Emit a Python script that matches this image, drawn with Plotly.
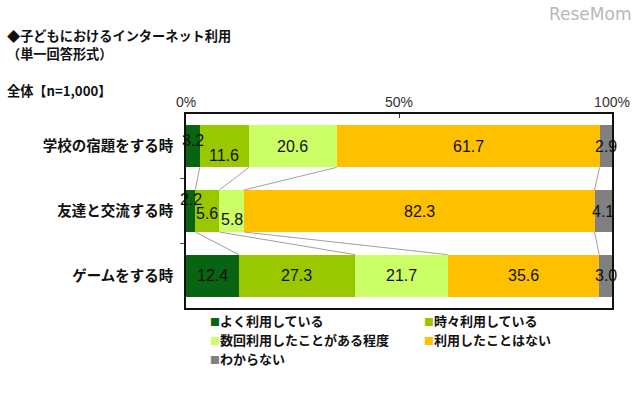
import plotly.graph_objects as go

categories = ["学校の宿題をする時", "友達と交流する時", "ゲームをする時"]
series_names = ["よく利用している", "時々利用している", "数回利用したことがある程度", "利用したことはない", "わからない"]
often = [3.2, 2.2, 12.4]
sometimes = [11.6, 5.6, 27.3]
few_times = [20.6, 5.8, 21.7]
never = [61.7, 82.3, 35.6]
unknown = [2.9, 4.1, 3.0]
x_ticks = [0, 50, 100]
x_tick_labels = ["0%", "50%", "100%"]

series = [often, sometimes, few_times, never, unknown]
colors = ["#086410", "#99C800", "#CCFF66", "#FFC000", "#808080"]

# label vertical shifts (styling only) for crowded small labels
label_shift = {(0, 0): 6, (0, 1): -9, (1, 0): 12, (1, 1): -2, (1, 2): -8}

BAR_W = 0.65
ypos = list(range(len(categories)))

fig = go.Figure()
for s, name, c in zip(series, series_names, colors):
    fig.add_trace(go.Bar(
        y=ypos, x=s, name=name, orientation="h", marker=dict(color=c, line=dict(width=0)),
        width=BAR_W, showlegend=False, hoverinfo="skip"))

# cumulative boundaries
cum = []
for i in range(len(categories)):
    acc = 0
    row = []
    for s in series:
        acc += s[i]
        row.append(acc)
    cum.append(row)

# connector lines between bars
for i in range(len(categories) - 1):
    for k in range(len(series) - 1):
        fig.add_trace(go.Scatter(
            x=[cum[i][k], cum[i + 1][k]],
            y=[i + BAR_W / 2, i + 1 - BAR_W / 2],
            mode="lines", line=dict(color="#A0A0A0", width=1),
            showlegend=False, hoverinfo="skip"))

# value labels
annotations = []
for i in range(len(categories)):
    start = 0
    for k, s in enumerate(series):
        v = s[i]
        annotations.append(dict(
            x=start + v / 2, y=i, xref="x", yref="y", text=f"{v:.1f}",
            showarrow=False, font=dict(size=16, color="#111", family="Liberation Sans, Arial"),
            yshift=label_shift.get((i, k), 0)))
        start += v

jp = "Noto Sans CJK JP"
W, H = 640, 398
L, R, T, B = 186, 28, 114, 90
pw, ph = W - L - R, H - T - B
def px(x, y):
    return (x - L) / pw, 1 - (y - T) / ph

for text, (tx, ty) in [("<b>◆子どもにおけるインターネット利用</b>", (5, 35)),
                       ("<b>（単一回答形式）</b>", (5, 53)),
                       ("<b>全体【n=1,000】</b>", (5, 90))]:
    ax, ay = px(tx, ty)
    annotations.append(dict(x=ax, y=ay, xref="paper", yref="paper", text=text, showarrow=False,
                            xanchor="left", yanchor="middle",
                            font=dict(size=13.2, color="#111", family=jp)))

# watermark
wx, wy = px(590, 14)
annotations.append(dict(x=wx, y=wy, xref="paper", yref="paper", text="ReseMom", showarrow=False,
                        yanchor="middle", xanchor="center",
                        font=dict(size=17, color="#B8B8B8", family="DejaVu Sans")))

# legend (manual, two columns)
leg_pos = [(208, 320), (422, 320), (208, 339), (422, 339), (208, 358)]
for (lx, ly), name, c in zip(leg_pos, series_names, colors):
    ax, ay = px(lx, ly)
    annotations.append(dict(
        x=ax, y=ay, xref="paper", yref="paper", xanchor="left", yanchor="middle", showarrow=False,
        text=f"<span style='color:{c};font-size:10px'>■</span><b>{name}</b>",
        font=dict(size=13, color="#111", family=jp)))

fig.update_layout(
    width=W, height=H, margin=dict(l=L, r=R, t=T, b=B, autoexpand=False),
    paper_bgcolor="white", plot_bgcolor="white", barmode="stack",
    annotations=annotations,
    xaxis=dict(range=[0, 100], side="top", tickvals=x_ticks, ticktext=x_tick_labels,
               showgrid=False, zeroline=False, showline=True, linecolor="#111", linewidth=1.5,
               mirror=True, ticks="inside", ticklen=4, tickcolor="#333", automargin=False,
               tickfont=dict(size=14, color="#333", family="Liberation Sans, Arial"), fixedrange=True),
    yaxis=dict(range=[len(categories) - 0.5, -0.5], tickvals=ypos,
               ticktext=[f"<b>{c}</b>" for c in categories],
               showgrid=False, zeroline=False, showline=True, linecolor="#111", linewidth=1.5,
               mirror=True, ticks="", ticklabelstandoff=8, automargin=False,
               minor=dict(tickvals=[0.5, 1.5], ticks="outside", ticklen=4, tickcolor="#555"),
               tickfont=dict(size=14.5, color="#111", family=jp), fixedrange=True),
    font=dict(family=jp),
)

fig.write_html("out.html", config={"displayModeBar": False},
               post_script="document.body.style.margin='0';document.body.style.overflow='hidden';")
